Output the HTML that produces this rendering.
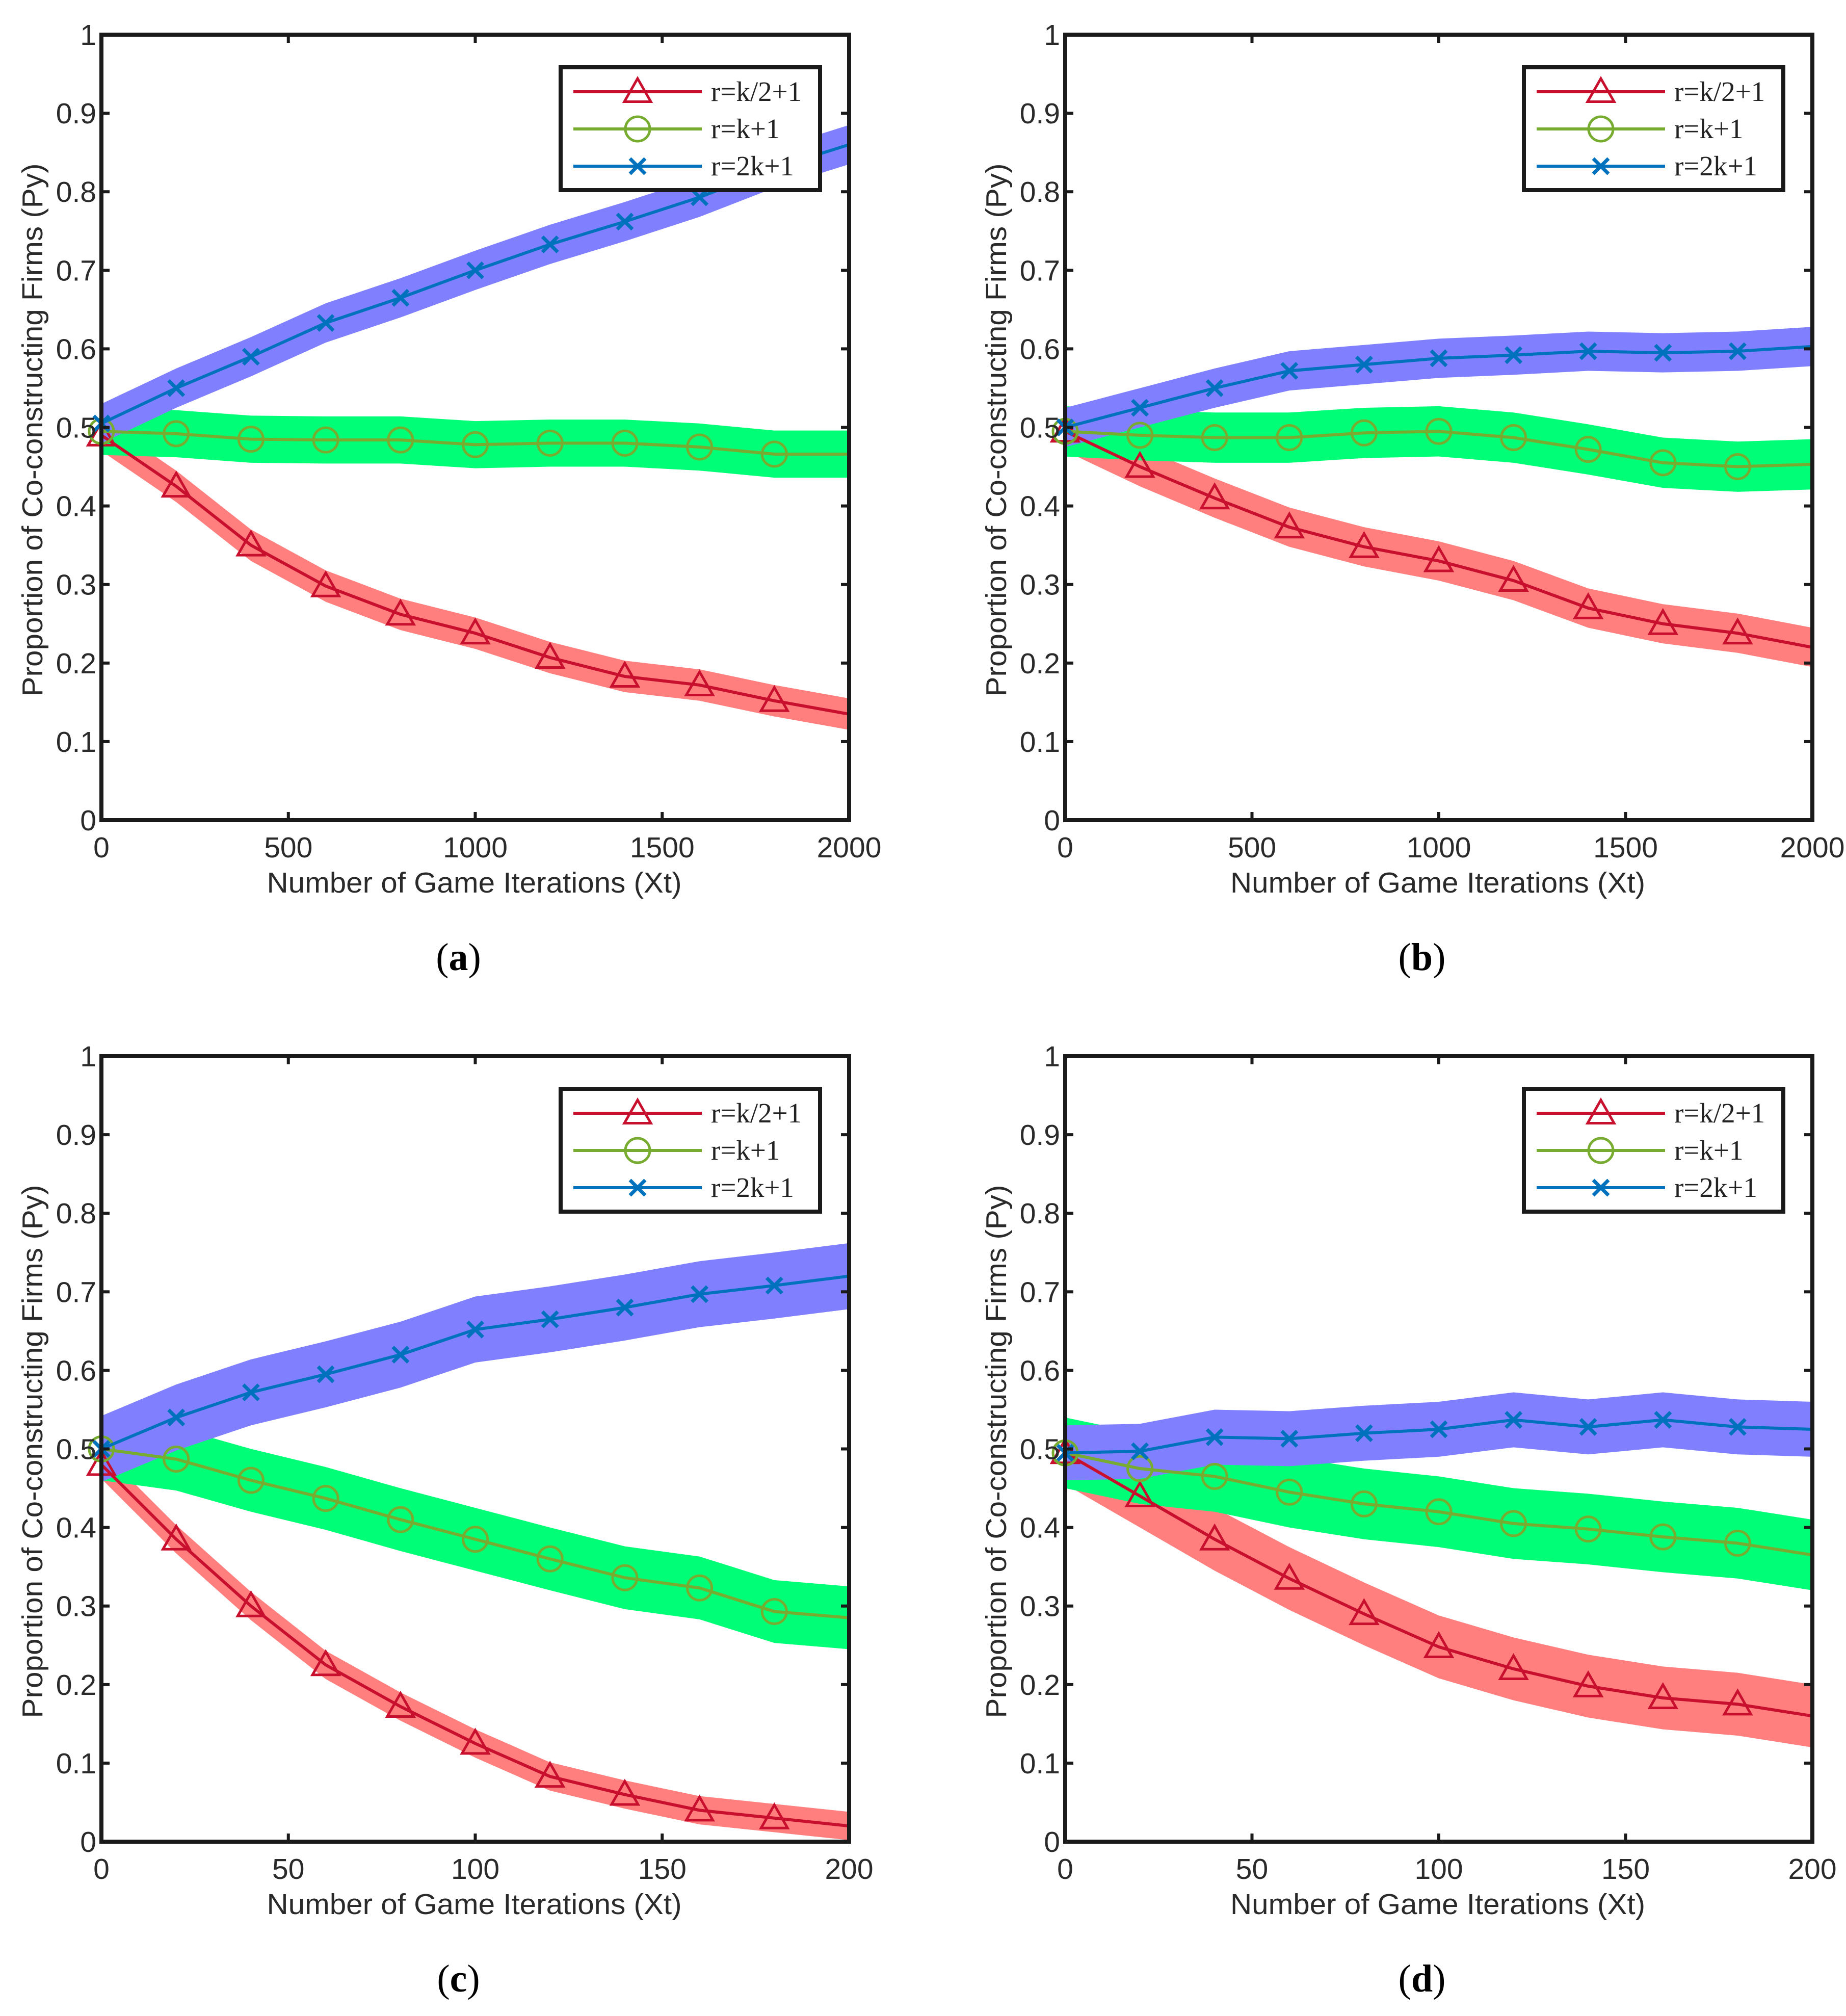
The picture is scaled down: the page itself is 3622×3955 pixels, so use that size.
<!DOCTYPE html>
<html><head><meta charset="utf-8"><style>
html,body{margin:0;padding:0;background:#fff;}
svg{display:block;}
</style></head><body>
<svg id="fig" xmlns="http://www.w3.org/2000/svg" width="3622" height="3955" viewBox="0 0 3622 3955"></svg>
<script>
// ---- data ----
const xLong = [0,200,400,600,800,1000,1200,1400,1600,1800,2000];
const xShort = [0,20,40,60,80,100,120,140,160,180,200];
const yTicks = [0,0.1,0.2,0.3,0.4,0.5,0.6,0.7,0.8,0.9,1];
const yTickLabels = ['0','0.1','0.2','0.3','0.4','0.5','0.6','0.7','0.8','0.9','1'];
const xTicksLong = [0,500,1000,1500,2000];
const xTicksShort = [0,50,100,150,200];
const seriesNames = ['r=k/2+1','r=k+1','r=2k+1'];
const panelLabels = ['a','b','c','d'];

const aRed   = [0.49,0.425,0.35,0.298,0.262,0.238,0.207,0.183,0.172,0.152,0.135];
const aGreen = [0.495,0.492,0.485,0.484,0.484,0.478,0.48,0.48,0.475,0.466,0.466];
const aBlue  = [0.505,0.55,0.59,0.633,0.665,0.70,0.733,0.762,0.793,0.83,0.86];
const bRed   = [0.495,0.45,0.41,0.373,0.348,0.33,0.305,0.27,0.25,0.238,0.22];
const bGreen = [0.495,0.49,0.487,0.487,0.493,0.495,0.487,0.472,0.455,0.45,0.453];
const bBlue  = [0.50,0.525,0.55,0.572,0.58,0.588,0.592,0.597,0.595,0.597,0.603];
const cRed   = [0.48,0.385,0.30,0.225,0.172,0.125,0.083,0.06,0.04,0.03,0.02];
const cGreen = [0.50,0.487,0.46,0.437,0.41,0.385,0.36,0.336,0.323,0.293,0.285];
const cBlue  = [0.50,0.54,0.572,0.595,0.62,0.652,0.665,0.68,0.697,0.708,0.72];
const dRed   = [0.495,0.44,0.385,0.335,0.29,0.248,0.22,0.198,0.183,0.175,0.16];
const dGreen = [0.495,0.475,0.465,0.445,0.43,0.42,0.405,0.398,0.388,0.38,0.365];
const dBlue  = [0.495,0.497,0.515,0.513,0.52,0.525,0.537,0.528,0.537,0.528,0.525];
// band half-widths
const aBand = [0.02,0.03,0.025];
const bBand = [0.025,0.032,0.025];
const cBand = [0.018,0.04,0.042];
const dBand = [0.04,0.045,0.035];

// ---- layout ----
const NS='http://www.w3.org/2000/svg';
const svg=document.getElementById('fig');
function el(tag,attrs,parent){const e=document.createElementNS(NS,tag);for(const k in attrs)e.setAttribute(k,attrs[k]);(parent||svg).appendChild(e);return e;}
const lineCol=['#c8102e','#77ac30','#0072bd'];
const bandCol=['#ff7f7f','#00ff77','#8080ff'];
const panels=[
 {L:199,R:1666,T:68,B:1609,xs:xLong,xt:xTicksLong,xmax:2000,data:[aRed,aGreen,aBlue],band:aBand},
 {L:2090,R:3556,T:68,B:1609,xs:xLong,xt:xTicksLong,xmax:2000,data:[bRed,bGreen,bBlue],band:bBand},
 {L:199,R:1666,T:2072,B:3613,xs:xShort,xt:xTicksShort,xmax:200,data:[cRed,cGreen,cBlue],band:cBand},
 {L:2090,R:3556,T:2072,B:3613,xs:xShort,xt:xTicksShort,xmax:200,data:[dRed,dGreen,dBlue],band:dBand}
];
function marker(g,type,cx,cy,col){
  if(type===0){const s=26;const m=el('polygon',{points:`${cx},${cy-s} ${cx-s},${cy+s*0.75} ${cx+s},${cy+s*0.75}`,fill:'none',stroke:col,'stroke-width':5},g);}
  else if(type===1){const m=el('circle',{cx:cx,cy:cy,r:24,fill:'none',stroke:col,'stroke-width':5},g);}
  else {const s=15;const m=el('path',{d:`M${cx-s},${cy-s}L${cx+s},${cy+s}M${cx-s},${cy+s}L${cx+s},${cy-s}`,stroke:col,'stroke-width':7,fill:'none'},g);}
}
panels.forEach((p,pi)=>{
  const g=el('g',{});
  
  
  const X=v=>p.L+(v/p.xmax)*(p.R-p.L);
  const Y=v=>p.B-v*(p.B-p.T);
  p.data.forEach((vals,si)=>{
    const up=vals.map((v,i)=>X(p.xs[i])+','+Y(v+p.band[si]));
    const dn=vals.map((v,i)=>X(p.xs[i])+','+Y(v-p.band[si])).reverse();
    const b=el('polygon',{points:up.concat(dn).join(' '),fill:bandCol[si]},g);
    
    
  });
  p.data.forEach((vals,si)=>{
    const l=el('polyline',{points:vals.map((v,i)=>X(p.xs[i])+','+Y(v)).join(' '),fill:'none',stroke:lineCol[si],'stroke-width':6},g);
    
    
    vals.forEach((v,i)=>{ if(i<vals.length-1) marker(g,si,X(p.xs[i]),Y(v),lineCol[si]); });
  });
  const box=el('rect',{x:p.L,y:p.T,width:p.R-p.L,height:p.B-p.T,fill:'none',stroke:'#1a1a1a','stroke-width':8},g);
  
  
  yTicks.forEach((t,i)=>{
    el('line',{x1:p.L,x2:p.L+16,y1:Y(t),y2:Y(t),stroke:'#1a1a1a','stroke-width':6},g);
    el('line',{x1:p.R,x2:p.R-16,y1:Y(t),y2:Y(t),stroke:'#1a1a1a','stroke-width':6},g);
    const tx=el('text',{x:p.L-10,y:Y(t)+20,'text-anchor':'end','font-family':'Liberation Sans, sans-serif','font-size':57,fill:'#2a2a2a'},g);
    tx.textContent=yTickLabels[i];
    
    
  });
  p.xt.forEach(t=>{
    el('line',{x1:X(t),x2:X(t),y1:p.B,y2:p.B-16,stroke:'#1a1a1a','stroke-width':6},g);
    el('line',{x1:X(t),x2:X(t),y1:p.T,y2:p.T+16,stroke:'#1a1a1a','stroke-width':6},g);
    const tx=el('text',{x:X(t),y:p.B+73,'text-anchor':'middle','font-family':'Liberation Sans, sans-serif','font-size':57,fill:'#2a2a2a'},g);
    tx.textContent=String(t);
    
    
  });
  const xt=el('text',{x:(p.L+p.R)/2-2,y:p.B+142,'text-anchor':'middle','font-family':'Liberation Sans, sans-serif','font-size':57,fill:'#2a2a2a',textLength:814,lengthAdjust:'spacingAndGlyphs'},g);
  xt.textContent='Number of Game Iterations (Xt)';
  
  
  const cy=(p.T+p.B)/2+5;
  const yt=el('text',{x:p.L-116,y:cy,'text-anchor':'middle','font-family':'Liberation Sans, sans-serif','font-size':57,fill:'#2a2a2a',transform:`rotate(-90 ${p.L-116} ${cy})`,textLength:1046,lengthAdjust:'spacingAndGlyphs'},g);
  yt.textContent='Proportion of Co-constructing Firms (Py)';
  
  
  const lg=el('g',{},g);
  
  
  const lx=p.R-566, ly=p.T+64;
  el('rect',{x:lx,y:ly,width:509,height:241,fill:'#fff',stroke:'#1a1a1a','stroke-width':8},lg);
  seriesNames.forEach((n,si)=>{
    const ry=ly+48+si*73;
    const ent=el('g',{},lg);
    
    
    el('line',{x1:lx+25,x2:lx+277,y1:ry,y2:ry,stroke:lineCol[si],'stroke-width':6},ent);
    marker(ent,si,lx+151,ry,lineCol[si]);
    const t=el('text',{x:lx+295,y:ry+18,'font-family':'Liberation Serif, serif','font-size':55,fill:'#222'},ent);
    t.textContent=n;
  });
  const pl=el('text',{x:(p.L+p.R)/2-33,y:p.B+294,'text-anchor':'middle','font-family':'Liberation Serif, serif','font-size':76,fill:'#000'},g);
  pl.innerHTML='(<tspan font-weight="bold">'+panelLabels[pi]+'</tspan>)';
  
  
});
</script>
</body></html>
